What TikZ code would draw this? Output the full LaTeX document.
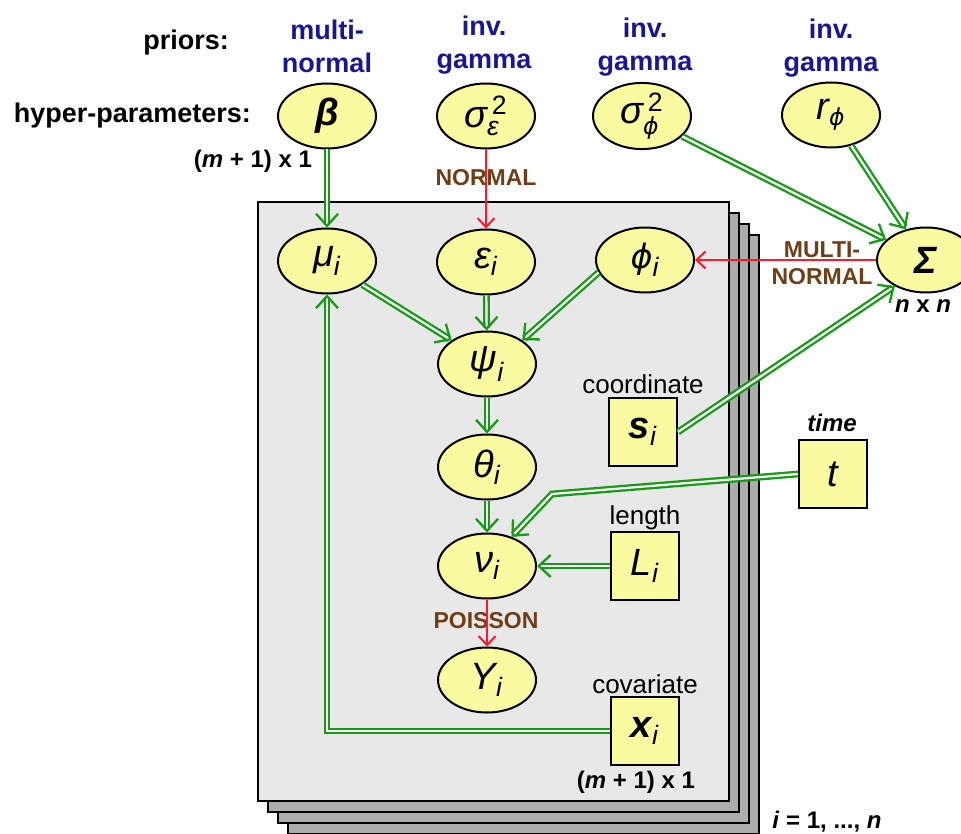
\documentclass[tikz,border=0pt]{standalone}
\usepackage{amsmath}
\usepackage{fontspec}
\setmainfont{Liberation Sans}
\newfontfamily\phifamily{DejaVu Sans}
\usepackage{tikz}
\usetikzlibrary{shapes,arrows.meta}

\definecolor{nodefill}{RGB}{250,250,160}
\definecolor{platefill}{RGB}{232,232,232}
\definecolor{plategray}{RGB}{172,172,172}
\definecolor{linkgreen}{RGB}{22,155,22}
\definecolor{drawred}{RGB}{255,25,45}
\definecolor{distbrown}{RGB}{110,62,22}
\definecolor{priorblue}{RGB}{22,22,150}

\newcommand{\varsize}{\fontsize{19}{22}\selectfont}
\newcommand{\gr}[1]{\text{\itshape #1}}
\newcommand{\bgr}[1]{\text{\bfseries\itshape #1}}
\newcommand{\vphi}{\text{\scalebox{0.88}{\phifamily\itshape ϕ}}}

\tikzset{
  hyper/.style={ellipse, draw, line width=1pt, fill=nodefill, minimum width=49pt, minimum height=32.5pt, inner sep=0pt, font=\varsize},
  datum/.style={rectangle, draw, line width=1pt, fill=nodefill, minimum size=34pt, inner sep=0pt, font=\varsize},
  link/.style={draw=linkgreen, line width=1.15pt, double=white, double distance=1.1pt, -{Straight Barb[length=6pt,width=11pt]}},
  draws/.style={draw=drawred, line width=1pt, -{Straight Barb[length=4.5pt,width=8.5pt]}},
  rowlabel/.style={font=\fontsize{13.5}{16.5}\selectfont\bfseries, anchor=east},
  prior/.style={font=\fontsize{13.5}{16.5}\selectfont\bfseries, text=priorblue, align=center},
  dist/.style={font=\fontsize{11.5}{13.5}\selectfont\bfseries, text=distbrown, align=center},
  note/.style={font=\fontsize{13}{15}\selectfont},
  dims/.style={font=\fontsize{12}{14}\selectfont\bfseries},
}

\begin{document}
\begin{tikzpicture}[x=0.5pt,y=-0.5pt]

\useasboundingbox (0,0) rectangle (961,833);
\clip (0,0) rectangle (961,833);

% stacked plates, back ones first
\foreach \k in {3,2,1}{
  \draw[line width=0.8pt, fill=plategray] (258+10*\k,202+11*\k) rectangle (729+10*\k,801+11*\k);
}
\draw[line width=0.8pt, fill=platefill] (258,202) rectangle (729,801);

% row titles
\node[rowlabel] (priors) at (236,43) {priors:};
\node[rowlabel] (hyperp) at (258,116) {hyper-parameters:};

% prior families
\node[prior] (pbeta) at (327,46) {multi-\\normal};
\node[prior] (psigeps) at (484,45) {inv.\\gamma};
\node[prior] (psigphi) at (645,47) {inv.\\gamma};
\node[prior] (prphi) at (831,48) {inv.\\gamma};

% hyper-parameters
\node[hyper] (beta) at (327,116) {$\bgr{β}$};
\node[hyper] (sigeps) at (486,116) {$\gr{σ}_{\gr{ε}}^{\,\text{2}}$};
\node[hyper] (sigphi) at (642,116) {$\gr{σ}_{\vphi}^{\,\text{2}}$};
\node[hyper] (rphi) at (831,115) {$\gr{r}_{\vphi}$};
\node[hyper] (Sigma) at (926,260) {$\bgr{Σ}$};

% inside the plate
\node[hyper] (mu) at (327,261) {$\gr{μ}_{\gr{i}}$};
\node[hyper] (eps) at (486,262) {$\gr{ε}_{\gr{i}}$};
\node[hyper] (phi) at (645,260) {$\vphi_{\gr{i}}$};
\node[hyper] (psi) at (487,364) {$\gr{ψ}_{\gr{i}}$};
\node[hyper] (theta) at (487,467) {$\gr{θ}_{\gr{i}}$};
\node[hyper] (nu) at (487,566) {$\gr{ν}_{\gr{i}}$};
\node[hyper] (Y) at (487,680) {$\gr{Y}_{\gr{i}}$};

% observed data
\node[datum] (s) at (643,432) {$\bgr{s}_{\gr{i}}$};
\node[datum] (t) at (833,474) {$\gr{t}$};
\node[datum] (L) at (645,566) {$\gr{L}_{\gr{i}}$};
\node[datum] (x) at (645,731) {$\bgr{x}_{\gr{i}}$};
\coordinate (tbend) at (552,494);

% small labels
\node[dims] (dbeta) at (253,161) {(\textit{m} + 1) x 1};
\node[dims] (dx) at (636,782) {(\textit{m} + 1) x 1};
\node[dims] (dSigma) at (923,306) {\textit{n} x \textit{n}};
\node[dims] (tlab) at (832,423) {\textit{time}};
\node[dims] (range) at (827,822) {\textit{i} = 1, ..., \textit{n}};
\node[note] (scoord) at (643,384) {coordinate};
\node[note] (llen) at (645,518) {length};
\node[note] (xcov) at (645,684) {covariate};

% distributions
\node[dist] (dnormal) at (486,178) {NORMAL};
\node[dist] (dmulti) at (822,263) {MULTI-\\NORMAL};
\node[dist] (dpois) at (486,621) {POISSON};

% links
\draw[link] (beta) -- (mu);
\draw[draws] (sigeps) -- (eps);
\draw[link] (sigphi) -- (Sigma);
\draw[link] (rphi) -- (Sigma);
\draw[draws] (Sigma) -- (phi);
\draw[link] (s.east) -- (Sigma.220);
\draw[link] (mu.south east) -- (psi.north west);
\draw[link] (eps) -- (psi);
\draw[link] (phi.195) -- (psi.north east);
\draw[link] (psi) -- (theta);
\draw[link] (theta) -- (nu);
\draw[link] (t.west) -- (tbend) -- (nu.50);
\draw[link] (L) -- (nu);
\draw[draws] (nu) -- (Y);
\draw[link] (x.west) -| (mu.south);

\end{tikzpicture}
\end{document}
